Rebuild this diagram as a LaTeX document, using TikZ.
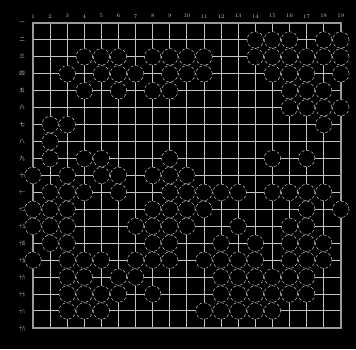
\documentclass[tikz,border=0pt]{standalone}
\usepackage{fontspec}
\newfontfamily\cjk{Noto Sans CJK SC}
\definecolor{boardbg}{HTML}{000000}
\definecolor{gridgray}{HTML}{C4C4C4}
\definecolor{rimgray}{HTML}{9A9A9A}
\definecolor{stoneedge}{HTML}{D4D4D4}
\tikzset{
  gridline/.style={draw=gridgray, line width=1pt},
  rim/.style={draw=rimgray, line width=2pt},
  stone/.style={circle, draw=stoneedge, fill=black, minimum size=16.5pt,
    inner sep=0pt, line width=0.45pt, densely dashed},
  collabel/.style={font=\fontsize{5.5}{5.5}\selectfont, text=gridgray, inner sep=0pt},
  rowlabel/.style={font=\cjk\fontsize{5.5}{5.5}\selectfont, text=gridgray, inner sep=0pt},
}

\begin{document}
\begin{tikzpicture}[x=17.1pt,y=-16.94pt]
  % page frame, black ground
  \fill[boardbg] (-15.9pt,6.06pt) rectangle (340.1pt,-342.94pt);
  \useasboundingbox (-15.9pt,6.06pt) rectangle (340.1pt,-342.94pt);

  % the grid
  \foreach \i in {2,...,18} {
    \draw[gridline] (\i,1) -- (\i,19);
    \draw[gridline] (1,\i) -- (19,\i);
  }
  \draw[rim] (1,1) rectangle (19,19);

  % coordinates along the top
  \foreach \i in {1,...,19}
    \node[collabel] (col-\i) at (\i,0.6) {\i};

  % row numbers on the left
  \foreach \r/\t in {1/一,2/二,3/三,4/四,5/五,6/六,7/七,8/八,9/九,10/十} 
    \node[rowlabel] (row-\r) at (0.36,\r) {\t};
  \foreach \r/\t in {11/十一,12/十二,13/十三,14/十四,15/十五,16/十六,17/十七,18/十八,19/十九}
    \node[rowlabel, xscale=0.55] (row-\r) at (0.36,\r) {\t};

  % stones, row by row
  \foreach \r/\cl in {
      2/{14,15,16,18,19},
      3/{4,5,6,8,9,10,11,14,15,16,17,18,19},
      4/{3,5,6,7,9,10,11,15,16,17,19},
      5/{4,6,8,9,16,17,18},
      6/{16,17,18,19},
      7/{2,3,18},
      8/{2},
      9/{2,4,5,9,15,17},
      10/{1,3,5,6,8,9,10},
      11/{2,3,4,6,9,10,11,12,13,15,16,17,18},
      12/{1,2,3,8,9,10,11,17,19},
      13/{1,2,3,7,8,9,10,13,16,17},
      14/{2,3,8,9,12,14,16,17,18},
      15/{1,3,4,5,7,8,9,11,12,13,14,16,17,18},
      16/{3,4,6,7,12,13,14,15,16,17},
      17/{3,4,5,6,8,12,13,14,15,16,17},
      18/{3,4,5,11,12,13,14,15}} {
    \foreach \c in \cl
      \node[stone] (s-\c-\r) at (\c,\r) {};
  }
\end{tikzpicture}
\end{document}
